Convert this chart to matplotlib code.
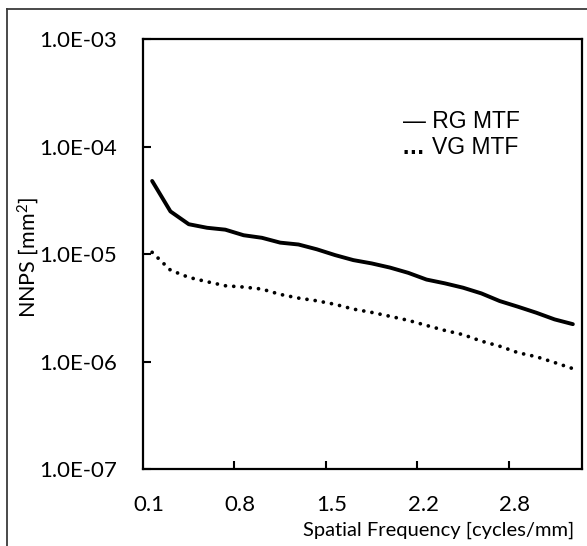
import numpy as np
import matplotlib
matplotlib.use("Agg")
import matplotlib.pyplot as plt
from matplotlib.ticker import FixedLocator, FuncFormatter, NullLocator
from matplotlib.lines import Line2D
import matplotlib.transforms as mtransforms

# ---- data ----
freq = [0.100, 0.237, 0.374, 0.512, 0.649, 0.786, 0.923, 1.060, 1.198, 1.335,
        1.472, 1.609, 1.746, 1.884, 2.021, 2.158, 2.295, 2.432, 2.570, 2.707,
        2.844, 2.981, 3.118, 3.256]
rg_nnps = [4.8e-5, 2.5e-5, 1.9e-5, 1.76e-5, 1.69e-5, 1.5e-5, 1.42e-5, 1.28e-5,
           1.23e-5, 1.11e-5, 9.8e-6, 8.8e-6, 8.2e-6, 7.5e-6, 6.7e-6, 5.8e-6,
           5.35e-6, 4.87e-6, 4.31e-6, 3.66e-6, 3.24e-6, 2.85e-6, 2.47e-6, 2.23e-6]
vg_nnps = [1.04e-5, 7.1e-6, 6.08e-6, 5.54e-6, 5.08e-6, 4.94e-6, 4.73e-6, 4.22e-6,
           3.9e-6, 3.68e-6, 3.41e-6, 3.08e-6, 2.87e-6, 2.64e-6, 2.42e-6, 2.17e-6,
           1.95e-6, 1.78e-6, 1.55e-6, 1.39e-6, 1.21e-6, 1.11e-6, 9.8e-7, 8.6e-7]
label_every = 5
y_ticks = [1e-7, 1e-6, 1e-5, 1e-4, 1e-3]
series_labels = ["RG MTF", "VG MTF"]
x_title = "Spatial Frequency [cycles/mm]"
y_title = "NNPS [mm$^2$]"

plt.rcParams["mathtext.fontset"] = "custom"
plt.rcParams["mathtext.rm"] = "Lato"
plt.rcParams["mathtext.it"] = "Lato:italic"

W, H = 587, 546
fig = plt.figure(figsize=(W / 100, H / 100), dpi=100)
font = "Lato"

ax = fig.add_axes([143 / W, 1 - 469 / H, (582 - 143) / W, (469 - 39.3) / H])
idx = np.arange(len(freq))
ax.plot(idx, rg_nnps, color="black", lw=2.8, solid_capstyle="round",
        solid_joinstyle="round")
ax.plot(idx, vg_nnps, color="black", lw=2.7, linestyle=(0, (0.01, 2.2)),
        dash_capstyle="round")

ax.set_yscale("log")
ax.set_ylim(1e-7, 1e-3)
ax.set_xlim(-0.5, len(freq) - 0.5)

ax.yaxis.set_major_locator(FixedLocator(y_ticks))
ax.yaxis.set_minor_locator(NullLocator())
ax.yaxis.set_major_formatter(FuncFormatter(lambda v, p: f"{v:.1E}"))

# tick marks at category boundaries, labels at category centres
bounds = [i - 0.5 for i in range(label_every, len(freq), label_every)]
ax.xaxis.set_major_locator(FixedLocator(bounds))
ax.xaxis.set_major_formatter(FuncFormatter(lambda v, p: ""))
lab_pos = list(range(0, len(freq), label_every))
ax.set_xticks(lab_pos, minor=True)
ax.set_xticklabels([f"{freq[i]:.1f}" for i in lab_pos], minor=True)

ax.tick_params(axis="both", which="major", direction="in", length=6, width=1.5,
               color="black")
ax.tick_params(axis="x", which="minor", length=0, pad=18.5)
ax.tick_params(axis="y", which="major", pad=18.5)
for lab in ax.get_xticklabels(minor=True) + ax.get_yticklabels():
    lab.set_fontfamily(font)
    lab.set_fontsize(16)
offset = mtransforms.ScaledTranslation(-3.5 / 100, 0, fig.dpi_scale_trans)
for lab in ax.get_xticklabels(minor=True):
    lab.set_transform(lab.get_transform() + offset)

for s in ax.spines.values():
    s.set_linewidth(1.6)
    s.set_color("black")

# titles
fig.text(439 / W, 1 - 536 / H, x_title, ha="center", va="baseline",
         fontfamily=font, fontsize=14.5)
fig.text(28 / W, 1 - 258 / H, y_title, ha="center", va="center", rotation=90,
         fontfamily=font, fontsize=15.5)

# legend text box
fig.text(403 / W, 1 - 127.7 / H, "— " + series_labels[0], ha="left", va="baseline",
         fontfamily="Liberation Sans", fontsize=16.5)
fig.text(402 / W, 1 - 154 / H, "…", ha="left", va="baseline",
         fontfamily="Liberation Sans", fontsize=16.5, fontweight="bold")
fig.text(432 / W, 1 - 154 / H, series_labels[1], ha="left", va="baseline",
         fontfamily="Liberation Sans", fontsize=16.5)

# outer chart border (partly cropped)
fig.add_artist(Line2D([7 / W, 7 / W], [0, 1 - 9 / H], color="#3a3a3a", lw=1.3))
fig.add_artist(Line2D([7 / W, 1.0], [1 - 9 / H, 1 - 9 / H], color="#3a3a3a", lw=1.3))

fig.savefig("out.png", dpi=100)
